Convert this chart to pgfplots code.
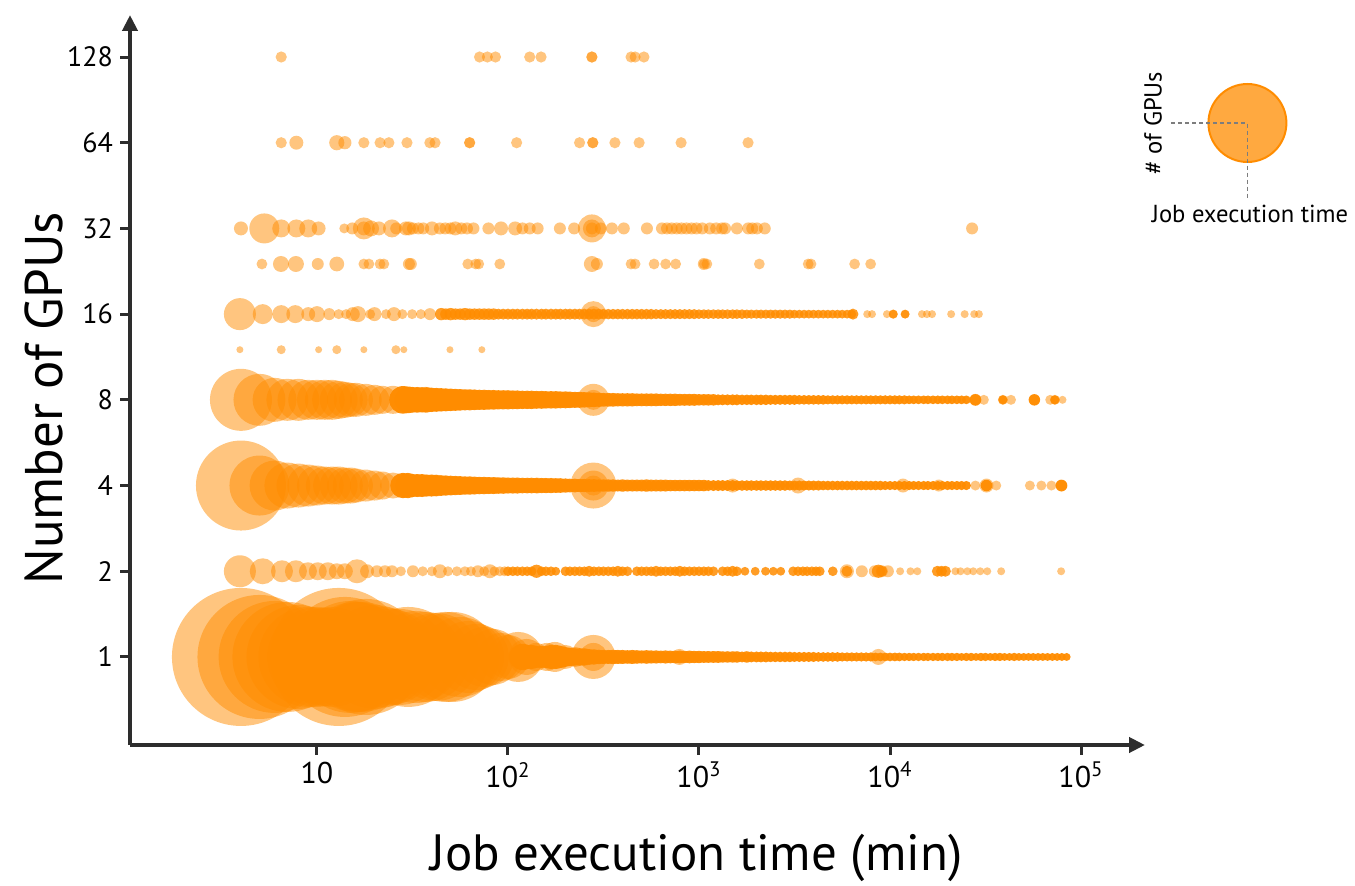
\documentclass[border=0pt]{standalone}
\usepackage{fontspec}
\setmainfont{PT Sans}
\usepackage{pgfplots}
\pgfplotsset{compat=1.18}
\usepackage{pgfplotstable}
\usetikzlibrary{arrows.meta}

\definecolor{dorange}{RGB}{255,140,0}
\definecolor{axgray}{RGB}{45,45,45}
\definecolor{dashgray}{RGB}{125,125,125}

% one bubble per job-duration bin: x = minutes, y = GPUs, r = radius (pt)
% the dense tails stack many jobs, so they are drawn more opaque
\pgfplotsset{bub/.style={scatter, only marks, mark=*,
  scatter/use mapped color={draw opacity=0, fill=dorange, fill opacity=#1},
  visualization depends on={\thisrow{r}\as\rad},
  scatter/@pre marker code/.append style={/tikz/mark size=\rad}},
  bub/.default=0.5,
  tail/.style 2 args={bub=#1,
  scatter/@pre marker code/.append style={/tikz/mark size=#2*\rad}}}

% ---- 1 GPU
\pgfplotstableread[row sep=\\]{
x y r\\
4 1 34.5\\ 5 1 31\\ 6 1 28\\ 7 1 27.5\\ 8 1 26\\ 9 1 25\\ 10 1 25\\ 11 1 24.5\\ 12 1 25\\
13 1 34.5\\ 14 1 30\\ 15 1 28\\ 16 1 27.5\\ 17 1 27.5\\ 18 1 29\\ 20 1 26\\ 22 1 25\\ 24 1 24\\
27 1 24\\ 30 1 25\\ 33 1 23\\ 37 1 22.5\\ 42 1 22\\ 47 1 22.5\\ 51 1 22.5\\ 56 1 20\\ 62 1 18\\
68 1 16.5\\ 75 1 15\\ 83 1 14\\ 92 1 12\\ 100 1 11\\ 113 1 12.5\\ 125 1 9\\ 140 1 7\\ 160 1 7\\
176 1 7.5\\ 200 1 6\\ 225 1 5\\ 250 1 4.5\\ 280 1 11\\ 280 1 7\\ 790 1 4\\ 8700 1 4\\
}\gpuone
\pgfplotstableread[row sep=\\]{
x y r\\
1.19e2 1 6\\ 1.26e2 1 5.5\\ 1.33e2 1 5.5\\ 1.41e2 1 5\\ 1.50e2 1 5\\ 1.58e2 1 5\\ 1.68e2 1 5.5\\
1.78e2 1 5.5\\ 1.88e2 1 5\\ 2.00e2 1 4.5\\ 2.11e2 1 4.2\\ 2.24e2 1 4\\ 2.37e2 1 4\\ 2.51e2 1 3.8\\
2.66e2 1 3.6\\ 2.82e2 1 3.5\\
2.99e2 1 3.3\\ 3.16e2 1 3.2\\ 3.35e2 1 3.2\\ 3.55e2 1 3.3\\ 3.76e2 1 3.2\\ 3.98e2 1 3.2\\ 4.22e2 1 3.1\\
4.47e2 1 3.2\\ 4.73e2 1 3.1\\ 5.01e2 1 3\\ 5.31e2 1 3.1\\ 5.62e2 1 3\\ 5.96e2 1 3\\ 6.31e2 1 2.9\\
6.68e2 1 3\\ 7.08e2 1 2.9\\ 7.50e2 1 2.9\\ 7.94e2 1 2.9\\ 8.41e2 1 2.8\\ 8.91e2 1 2.9\\ 9.44e2 1 2.8\\
1.00e3 1 2.8\\ 1.06e3 1 2.7\\ 1.12e3 1 2.7\\ 1.19e3 1 2.7\\ 1.26e3 1 2.7\\ 1.33e3 1 2.6\\ 1.41e3 1 2.6\\
1.50e3 1 2.6\\ 1.58e3 1 2.6\\ 1.68e3 1 2.5\\ 1.78e3 1 2.6\\ 1.88e3 1 2.5\\ 2.00e3 1 2.5\\ 2.11e3 1 2.5\\
2.24e3 1 2.5\\ 2.37e3 1 2.4\\ 2.51e3 1 2.4\\ 2.66e3 1 2.4\\ 2.82e3 1 2.4\\ 2.99e3 1 2.4\\ 3.16e3 1 2.3\\
3.35e3 1 2.3\\ 3.55e3 1 2.3\\ 3.76e3 1 2.3\\ 3.98e3 1 2.3\\ 4.22e3 1 2.2\\ 4.47e3 1 2.2\\ 4.73e3 1 2.2\\
5.01e3 1 2.2\\ 5.31e3 1 2.2\\ 5.62e3 1 2.1\\ 5.96e3 1 2.1\\ 6.31e3 1 2.1\\ 6.68e3 1 2.1\\ 7.08e3 1 2.1\\
7.50e3 1 2.1\\ 7.94e3 1 2.1\\ 8.41e3 1 2\\ 8.91e3 1 2\\ 9.44e3 1 2\\
1.00e4 1 2\\ 1.06e4 1 2\\ 1.12e4 1 2\\ 1.19e4 1 1.9\\ 1.26e4 1 1.9\\ 1.33e4 1 1.9\\ 1.41e4 1 1.9\\
1.50e4 1 1.9\\ 1.58e4 1 1.9\\ 1.68e4 1 1.9\\ 1.78e4 1 1.9\\ 1.88e4 1 1.9\\ 2.00e4 1 1.9\\ 2.11e4 1 1.9\\
2.24e4 1 1.9\\ 2.37e4 1 1.8\\ 2.51e4 1 1.9\\ 2.66e4 1 1.9\\ 2.82e4 1 1.8\\ 2.99e4 1 1.9\\ 3.16e4 1 1.9\\
3.35e4 1 1.8\\ 3.55e4 1 1.9\\ 3.76e4 1 1.9\\ 3.98e4 1 1.8\\ 4.22e4 1 1.8\\ 4.47e4 1 1.9\\ 4.73e4 1 1.8\\
5.01e4 1 1.8\\ 5.31e4 1 1.8\\ 5.62e4 1 1.8\\ 5.96e4 1 1.8\\ 6.31e4 1 1.8\\ 6.68e4 1 1.8\\ 7.08e4 1 1.8\\
7.50e4 1 1.8\\ 7.94e4 1 1.8\\ 8.41e4 1 1.8\\
}\gpuonetail

% ---- 2 GPUs
\pgfplotstableread[row sep=\\]{
x y r\\
3.95 2 8\\ 5.2 2 6.5\\ 6.56 2 5.5\\ 7.76 2 5.5\\ 8.97 2 4.5\\ 10.1 2 4.5\\ 11.4 2 4.5\\ 12.7 2 4\\
14 2 4\\ 16.2 2 6\\ 18.3 2 3.5\\ 20.6 2 3\\ 22.7 2 3\\ 24.7 2 3\\ 27.5 2 2.5\\ 31.8 2 3\\ 35.8 2 2.5\\
40 2 2.5\\ 44 2 3.5\\ 48.5 2 2.5\\ 54 2 2.5\\ 59.5 2 2.5\\ 64 2 2.5\\ 69.6 2 3\\ 75 2 2.5\\ 80.4 2 3.5\\
85 2 2.5\\ 90.7 2 2.5\\ 96 2 2.5\\
5.95e3 2 3.5\\ 7.12e3 2 3\\ 8.33e3 2 3\\ 9.06e3 2 3\\ 9.75e3 2 3\\ 1.13e4 2 2\\ 1.28e4 2 2\\ 1.39e4 2 2\\
2.20e4 2 2\\ 2.34e4 2 2\\ 2.54e4 2 2\\ 2.73e4 2 2\\ 2.97e4 2 2\\ 3.23e4 2 2\\ 3.82e4 2 2\\ 7.87e4 2 2\\
}\gputwo
\pgfplotstableread[row sep=\\]{
x y r\\
1.00e2 2 2.2\\ 1.06e2 2 2.2\\ 1.12e2 2 2.2\\ 1.19e2 2 2.2\\ 1.26e2 2 2.2\\ 1.33e2 2 2.2\\ 1.41e2 2 3\\
1.50e2 2 2.2\\ 1.58e2 2 2.2\\ 1.68e2 2 2.2\\ 1.78e2 2 2\\ 2.00e2 2 2.2\\ 2.11e2 2 2.2\\ 2.24e2 2 2.2\\
2.37e2 2 2.2\\ 2.51e2 2 2.2\\ 2.66e2 2 2.5\\ 2.82e2 2 2.2\\ 2.99e2 2 2.2\\ 3.16e2 2 2.2\\ 3.35e2 2 2.2\\
3.55e2 2 2.2\\ 3.76e2 2 2.5\\ 3.98e2 2 2.2\\ 4.22e2 2 2.2\\ 4.73e2 2 2.2\\ 5.01e2 2 2.2\\ 5.31e2 2 2.2\\
5.62e2 2 2.2\\ 5.96e2 2 2.5\\ 6.31e2 2 2.2\\ 6.68e2 2 2.2\\ 7.08e2 2 2.2\\ 7.50e2 2 2.2\\ 7.94e2 2 2.5\\
8.41e2 2 2.2\\ 8.91e2 2 2.2\\ 9.44e2 2 2.2\\ 1.00e3 2 2.2\\ 1.06e3 2 2.2\\ 1.12e3 2 2.2\\ 1.19e3 2 2.2\\
1.33e3 2 2.2\\ 1.41e3 2 2.2\\ 1.50e3 2 2.5\\ 1.58e3 2 2.2\\ 1.74e3 2 2\\ 1.97e3 2 2\\ 2.23e3 2 2\\
2.45e3 2 2\\ 2.68e3 2 2\\ 3.11e3 2 2.2\\ 3.30e3 2 2.2\\ 3.50e3 2 2.2\\ 3.68e3 2 2.2\\ 3.90e3 2 2.2\\
4.10e3 2 2.2\\ 4.29e3 2 2.2\\ 5.02e3 2 2.2\\ 5.95e3 2 2.5\\ 8.70e3 2 3\\ 9.06e3 2 2.5\\
1.77e4 2 2.5\\ 1.86e4 2 2.5\\ 1.95e4 2 2.5\\
}\gputwotail

% ---- 4 GPUs
\pgfplotstableread[row sep=\\]{
x y r\\
4 4 22.5\\ 5 4 15\\ 6 4 12.5\\ 7 4 11.5\\ 8 4 11\\ 9 4 10.5\\ 10 4 10\\ 11 4 9.5\\ 12 4 9.5\\ 13 4 9.5\\
14 4 9\\ 15 4 9\\ 16 4 8.5\\ 18 4 8\\ 20 4 7.5\\ 22 4 7\\ 25 4 6.5\\ 28 4 6\\ 32 4 5.5\\ 36 4 5\\ 40 4 5\\
42 4 5.5\\ 45 4 4.5\\ 50 4 4.5\\ 56 4 4.5\\ 63 4 4\\ 71 4 4\\ 80 4 4\\ 87 4 4\\ 90 4 3.5\\ 100 4 3.5\\
113 4 3.5\\ 126 4 3.5\\ 142 4 4\\ 160 4 3.5\\ 180 4 3.5\\ 280 4 11.5\\ 280 4 7.5\\ 280 4 5\\
1.5e3 4 3.5\\ 3.3e3 4 4\\ 1.17e4 4 3.5\\ 1.8e4 4 3\\
2.8e4 4 2.5\\ 3.2e4 4 3.5\\ 3.6e4 4 2.5\\ 5.4e4 4 2.5\\ 6.2e4 4 2.5\\ 7.0e4 4 2.5\\ 7.9e4 4 3\\
}\gpufour
\pgfplotstableread[row sep=\\]{
x y r\\
2.82e1 4 5.5\\ 2.99e1 4 5.5\\ 3.16e1 4 5\\
3.35e1 4 5\\ 3.55e1 4 5\\ 3.76e1 4 4.8\\ 3.98e1 4 4.8\\ 4.22e1 4 4.6\\ 4.47e1 4 4.5\\ 4.73e1 4 4.4\\
5.01e1 4 4.3\\ 5.31e1 4 4.2\\ 5.62e1 4 4.1\\ 5.96e1 4 4\\ 6.31e1 4 4\\ 6.68e1 4 3.9\\ 7.08e1 4 3.8\\
7.50e1 4 3.8\\ 7.94e1 4 3.7\\ 8.41e1 4 3.7\\ 8.91e1 4 3.6\\ 9.44e1 4 3.6\\ 1.00e2 4 3.5\\ 1.06e2 4 3.5\\
1.12e2 4 3.5\\ 1.19e2 4 3.4\\ 1.26e2 4 3.4\\ 1.33e2 4 3.4\\ 1.41e2 4 3.3\\ 1.50e2 4 3.3\\ 1.58e2 4 3.3\\
1.68e2 4 3.3\\ 1.78e2 4 3.2\\ 1.88e2 4 3.2\\
2.00e2 4 3.1\\ 2.11e2 4 3\\ 2.24e2 4 3\\ 2.37e2 4 2.9\\ 2.51e2 4 2.9\\ 2.66e2 4 2.8\\ 2.82e2 4 2.8\\
2.99e2 4 2.7\\ 3.16e2 4 2.7\\ 3.35e2 4 2.7\\ 3.55e2 4 2.7\\ 3.76e2 4 2.6\\ 3.98e2 4 2.7\\ 4.22e2 4 2.6\\
4.47e2 4 2.6\\ 4.73e2 4 2.6\\ 5.01e2 4 2.6\\ 5.31e2 4 2.7\\ 5.62e2 4 2.6\\ 5.96e2 4 2.6\\ 6.31e2 4 2.6\\
6.68e2 4 2.6\\ 7.08e2 4 2.5\\ 7.50e2 4 2.5\\ 7.94e2 4 2.5\\ 8.41e2 4 2.5\\ 8.91e2 4 2.5\\ 9.44e2 4 2.5\\
1.00e3 4 2.5\\ 1.06e3 4 2.5\\ 1.12e3 4 2.4\\ 1.19e3 4 2.4\\ 1.26e3 4 2.4\\ 1.33e3 4 2.4\\ 1.41e3 4 2.4\\
1.50e3 4 2.4\\ 1.58e3 4 2.3\\ 1.68e3 4 2.3\\ 1.78e3 4 2.3\\ 1.88e3 4 2.3\\ 2.00e3 4 2.3\\ 2.11e3 4 2.3\\
2.24e3 4 2.3\\ 2.37e3 4 2.3\\ 2.51e3 4 2.3\\ 2.66e3 4 2.3\\ 2.82e3 4 2.3\\ 2.99e3 4 2.2\\ 3.16e3 4 2.2\\
3.35e3 4 2.2\\ 3.55e3 4 2.2\\ 3.76e3 4 2.2\\ 3.98e3 4 2.2\\ 4.22e3 4 2.2\\ 4.47e3 4 2.1\\ 4.73e3 4 2.1\\
5.01e3 4 2.1\\ 5.31e3 4 2.1\\ 5.62e3 4 2.1\\ 5.96e3 4 2.1\\ 6.31e3 4 2.1\\ 6.68e3 4 2.1\\ 7.08e3 4 2.1\\
7.50e3 4 2.1\\ 7.94e3 4 2.1\\ 8.41e3 4 2.1\\ 8.91e3 4 2.1\\ 9.44e3 4 2\\ 1.00e4 4 2\\ 1.06e4 4 2\\
1.12e4 4 2\\ 1.19e4 4 2\\ 1.26e4 4 2\\ 1.33e4 4 2\\ 1.41e4 4 2\\ 1.50e4 4 2\\ 1.58e4 4 2\\ 1.68e4 4 2\\
1.78e4 4 2\\ 1.88e4 4 2\\ 2.00e4 4 2\\ 2.11e4 4 2\\ 2.24e4 4 2\\ 2.37e4 4 2\\ 2.51e4 4 2\\
3.2e4 4 2.5\\ 7.9e4 4 2.5\\
}\gpufourtail

% ---- 8 GPUs
\pgfplotstableread[row sep=\\]{
x y r\\
4 8 15.5\\ 5 8 13\\ 6 8 11\\ 7 8 10.5\\ 8 8 10.5\\ 9 8 10\\ 10 8 10\\ 11 8 10\\ 12 8 10\\ 13 8 9.5\\
14 8 9\\ 15 8 8.5\\ 16 8 8.5\\ 18 8 8\\ 20 8 7.5\\ 22 8 7\\ 25 8 7\\ 28 8 6.5\\ 32 8 6\\ 37 8 6.5\\
42 8 5.5\\ 47 8 5.5\\ 53 8 5\\ 60 8 5\\ 67 8 5\\ 75 8 4.5\\ 84 8 4.5\\ 95 8 4\\ 106 8 4\\ 120 8 4\\
134 8 3.5\\ 150 8 3.5\\ 170 8 3.5\\ 190 8 3.5\\ 210 8 3.5\\ 280 8 8\\ 280 8 5\\ 280 8 3.5\\
2.8e4 8 3\\ 3.1e4 8 2.5\\ 3.9e4 8 2.5\\ 4.3e4 8 2.5\\ 5.7e4 8 2.7\\ 6.9e4 8 2.5\\ 7.3e4 8 2.5\\ 8.0e4 8 2\\
}\gpueight
\pgfplotstableread[row sep=\\]{
x y r\\
2.82e1 8 6\\ 2.99e1 8 5.8\\ 3.16e1 8 5.6\\
3.35e1 8 5.6\\ 3.55e1 8 5.5\\ 3.76e1 8 5.5\\ 3.98e1 8 5.3\\ 4.22e1 8 5.2\\ 4.47e1 8 5.1\\ 4.73e1 8 5\\
5.01e1 8 4.9\\ 5.31e1 8 4.8\\ 5.62e1 8 4.7\\ 5.96e1 8 4.6\\ 6.31e1 8 4.6\\ 6.68e1 8 4.5\\ 7.08e1 8 4.4\\
7.50e1 8 4.4\\ 7.94e1 8 4.3\\ 8.41e1 8 4.3\\ 8.91e1 8 4.2\\ 9.44e1 8 4.2\\ 1.00e2 8 4.2\\ 1.06e2 8 4.1\\
1.12e2 8 4.1\\ 1.19e2 8 4\\ 1.26e2 8 4\\ 1.33e2 8 4\\ 1.41e2 8 3.9\\ 1.50e2 8 3.9\\ 1.58e2 8 3.8\\
1.68e2 8 3.8\\ 1.78e2 8 3.8\\ 1.88e2 8 3.7\\ 2.00e2 8 3.7\\ 2.11e2 8 3.6\\
2.24e2 8 3.5\\ 2.37e2 8 3.5\\ 2.51e2 8 3.4\\ 2.66e2 8 3.3\\ 2.82e2 8 3.2\\ 2.99e2 8 3.1\\ 3.16e2 8 3\\
3.35e2 8 3\\ 3.55e2 8 3\\ 3.76e2 8 2.9\\ 3.98e2 8 2.9\\ 4.22e2 8 2.9\\ 4.47e2 8 2.9\\ 4.73e2 8 2.8\\
5.01e2 8 2.8\\ 5.31e2 8 2.8\\ 5.62e2 8 2.8\\ 5.96e2 8 2.8\\ 6.31e2 8 2.7\\ 6.68e2 8 2.7\\ 7.08e2 8 2.7\\
7.50e2 8 2.7\\ 7.94e2 8 2.6\\ 8.41e2 8 2.6\\ 8.91e2 8 2.6\\ 9.44e2 8 2.6\\
1.00e3 8 2.5\\ 1.06e3 8 2.5\\ 1.12e3 8 2.5\\ 1.19e3 8 2.5\\ 1.26e3 8 2.4\\ 1.33e3 8 2.4\\ 1.41e3 8 2.4\\
1.50e3 8 2.4\\ 1.58e3 8 2.4\\ 1.68e3 8 2.3\\ 1.78e3 8 2.3\\ 1.88e3 8 2.3\\ 2.00e3 8 2.3\\ 2.11e3 8 2.3\\
2.24e3 8 2.3\\ 2.37e3 8 2.2\\ 2.51e3 8 2.2\\ 2.66e3 8 2.2\\ 2.82e3 8 2.2\\ 2.99e3 8 2.2\\ 3.16e3 8 2.2\\
3.35e3 8 2.1\\ 3.55e3 8 2.1\\ 3.76e3 8 2.1\\ 3.98e3 8 2.1\\ 4.22e3 8 2.1\\ 4.47e3 8 2.1\\ 4.73e3 8 2\\
5.01e3 8 2\\ 5.31e3 8 2\\ 5.62e3 8 2\\ 5.96e3 8 2\\ 6.31e3 8 2\\ 6.68e3 8 2\\ 7.08e3 8 2\\ 7.50e3 8 2\\
7.94e3 8 2\\ 8.41e3 8 2\\ 8.91e3 8 2\\ 9.44e3 8 2\\ 1.00e4 8 2\\ 1.06e4 8 2\\ 1.12e4 8 2\\ 1.19e4 8 2\\
1.26e4 8 1.9\\ 1.33e4 8 1.9\\ 1.41e4 8 1.9\\ 1.50e4 8 1.9\\ 1.58e4 8 1.9\\ 1.68e4 8 1.9\\ 1.78e4 8 1.9\\
1.88e4 8 1.9\\ 2.00e4 8 1.9\\ 2.11e4 8 1.9\\ 2.24e4 8 1.9\\ 2.37e4 8 1.9\\ 2.51e4 8 1.9\\
2.8e4 8 2.5\\ 3.9e4 8 2\\ 5.7e4 8 2.5\\ 7.3e4 8 2\\
}\gpueighttail

% ---- 12 GPUs
\pgfplotstableread[row sep=\\]{
x y r\\
3.95 12 1.75\\ 6.5 12 2.25\\ 10.2 12 1.75\\ 12.7 12 2.25\\ 17.6 12 1.75\\ 25.9 12 2.25\\ 28.5 12 1.75\\
49.7 12 1.75\\ 73 12 1.75\\
}\gputwelve

% ---- 16 GPUs
\pgfplotstableread[row sep=\\]{
x y r\\
3.95 16 8\\ 5.2 16 5\\ 6.5 16 4.5\\ 7.7 16 4.5\\ 9 16 3.5\\ 10 16 4\\ 11.6 16 3\\ 13 16 2.5\\ 14.2 16 2.5\\
15.4 16 3.5\\ 16.4 16 4\\ 19 16 2.5\\ 20 16 3.5\\ 23 16 2.5\\ 25.3 16 3.5\\ 28 16 2.5\\ 31.5 16 2.5\\
35 16 2.5\\ 39 16 3\\ 280 16 6.5\\ 280 16 4\\
7.6e3 16 2\\ 8.05e3 16 2\\ 9.64e3 16 2\\ 1.04e4 16 2.3\\ 1.2e4 16 2.2\\ 1.47e4 16 2\\ 1.56e4 16 2\\
1.66e4 16 2\\ 2.09e4 16 2\\ 2.46e4 16 2\\ 2.76e4 16 2\\ 2.92e4 16 2\\
}\gpusixteen
\pgfplotstableread[row sep=\\]{
x y r\\
4.47e1 16 2.8\\ 4.73e1 16 2.6\\ 5.01e1 16 2.8\\ 5.31e1 16 2.6\\ 5.62e1 16 2.6\\ 5.96e1 16 2.8\\
6.31e1 16 2.6\\ 6.68e1 16 2.6\\ 7.08e1 16 2.6\\ 7.50e1 16 2.6\\ 7.94e1 16 2.6\\ 8.41e1 16 2.6\\
8.91e1 16 2.5\\ 9.44e1 16 2.5\\ 1.00e2 16 2.5\\ 1.06e2 16 2.5\\ 1.12e2 16 2.5\\ 1.19e2 16 2.5\\
1.26e2 16 2.5\\ 1.33e2 16 2.5\\ 1.41e2 16 2.5\\ 1.50e2 16 2.5\\ 1.58e2 16 2.5\\ 1.68e2 16 2.5\\
1.78e2 16 2.5\\ 1.88e2 16 2.5\\ 2.00e2 16 2.5\\ 2.11e2 16 2.5\\ 2.24e2 16 2.5\\ 2.37e2 16 2.5\\
2.51e2 16 2.5\\ 2.66e2 16 2.5\\ 2.82e2 16 2.5\\ 2.99e2 16 2.5\\ 3.16e2 16 2.4\\ 3.35e2 16 2.4\\
3.55e2 16 2.4\\ 3.76e2 16 2.4\\ 3.98e2 16 2.4\\ 4.22e2 16 2.4\\ 4.47e2 16 2.4\\ 4.73e2 16 2.4\\
5.01e2 16 2.4\\ 5.31e2 16 2.4\\ 5.62e2 16 2.4\\ 5.96e2 16 2.3\\ 6.31e2 16 2.3\\ 6.68e2 16 2.3\\
7.08e2 16 2.3\\ 7.50e2 16 2.3\\ 7.94e2 16 2.3\\ 8.41e2 16 2.3\\ 8.91e2 16 2.3\\ 9.44e2 16 2.3\\
1.00e3 16 2.2\\ 1.06e3 16 2.2\\ 1.12e3 16 2.2\\ 1.19e3 16 2.2\\ 1.26e3 16 2.2\\ 1.33e3 16 2.2\\
1.41e3 16 2.2\\ 1.50e3 16 2.2\\ 1.58e3 16 2.2\\ 1.68e3 16 2.2\\ 1.78e3 16 2.1\\ 1.88e3 16 2.1\\
2.00e3 16 2.1\\ 2.11e3 16 2.1\\ 2.24e3 16 2.1\\ 2.37e3 16 2.1\\ 2.51e3 16 2.1\\ 2.66e3 16 2.1\\
2.82e3 16 2.1\\ 2.99e3 16 2.1\\ 3.16e3 16 2\\ 3.35e3 16 2\\ 3.55e3 16 2\\ 3.76e3 16 2\\ 3.98e3 16 2\\
4.22e3 16 2\\ 4.47e3 16 2\\ 4.73e3 16 2\\ 5.01e3 16 2\\ 5.31e3 16 2\\ 5.62e3 16 2\\ 5.96e3 16 2\\ 6.31e3 16 2\\
6.4e3 16 2.5\\ 1.04e4 16 2\\ 1.2e4 16 2\\
}\gpusixteentail

% ---- 24 GPUs
\pgfplotstableread[row sep=\\]{
x y r\\
5.15 24 2.7\\ 6.48 24 4\\ 7.76 24 4\\ 10.1 24 3\\ 12.7 24 3.7\\ 17.6 24 2.7\\ 18.7 24 2.7\\ 21.4 24 2.7\\
22.4 24 2.7\\ 30.3 24 3\\ 31 24 3\\ 61.6 24 2.7\\ 67.8 24 2.7\\ 70.3 24 2.7\\ 90.6 24 2.7\\ 275 24 4\\
292 24 3\\ 441 24 2.7\\ 463 24 2.7\\ 582 24 2.7\\ 669 24 2.7\\ 755 24 2.7\\ 1060 24 3\\ 1060 24 2.5\\
1100 24 2.7\\ 2070 24 2.7\\ 3730 24 2.7\\ 3860 24 2.7\\ 6530 24 2.7\\ 7920 24 2.7\\
}\gputwentyfour

% ---- 32 GPUs
\pgfplotstableread[row sep=\\]{
x y r\\
4 32 3.5\\ 5.3 32 7.5\\ 6.5 32 4.5\\ 7.8 32 4.5\\ 9 32 4.5\\ 10.2 32 3.5\\ 13.9 32 2.5\\ 15.3 32 3\\
17.6 32 5.5\\ 17.6 32 3.5\\ 19.2 32 4\\ 21.1 32 3.5\\ 24.7 32 4.5\\ 26 32 3\\ 29.2 32 3.5\\ 30.3 32 3.5\\
31.8 32 3\\ 34 32 3\\ 36 32 3\\ 40 32 3.5\\ 44 32 3\\ 47 32 3\\ 50 32 3\\ 53 32 3.5\\ 57 32 3\\ 61 32 3\\
66 32 3\\ 79 32 3\\ 92 32 3.5\\ 109 32 3.5\\ 119 32 3\\ 130 32 3\\ 143 32 3\\ 187 32 3\\ 222 32 3\\
275 32 7\\ 275 32 4.5\\ 275 32 3\\ 306 32 3\\ 350 32 3\\ 404 32 3\\ 534 32 3\\ 640 32 3\\ 680 32 3\\
720 32 3\\ 765 32 3\\ 810 32 3\\ 860 32 3\\ 915 32 3\\ 970 32 3\\ 1040 32 3\\ 1140 32 3\\ 1230 32 3\\
1320 32 3\\ 1370 32 3\\ 1580 32 3\\ 1810 32 3\\ 1900 32 3\\ 2010 32 3\\ 2210 32 3\\ 26900 32 3\\
}\gputhirtytwo

% ---- 64 GPUs
\pgfplotstableread[row sep=\\]{
x y r\\
6.5 64 2.8\\ 7.8 64 3.5\\ 12.7 64 3.8\\ 14 64 3.3\\ 17.6 64 2.8\\ 21.4 64 2.8\\ 23.8 64 2.8\\
29.6 64 2.8\\ 39 64 2.8\\ 41.5 64 2.8\\ 63 64 2.8\\ 63 64 2.8\\ 111 64 2.8\\ 237 64 2.8\\ 278 64 2.8\\
278 64 2.8\\ 363 64 2.8\\ 486 64 2.8\\ 806 64 2.8\\ 1807 64 2.8\\
}\gpusixtyfour

% ---- 128 GPUs
\pgfplotstableread[row sep=\\]{
x y r\\
6.5 128 2.8\\ 71 128 2.8\\ 78 128 2.8\\ 86 128 2.8\\ 130 128 2.8\\ 149 128 2.8\\ 275 128 2.8\\
275 128 2.8\\ 441 128 2.8\\ 463 128 2.8\\ 515 128 2.8\\
}\gpuonetwentyeight

\begin{document}
\begin{tikzpicture}
\path[use as bounding box] (0,0) rectangle (677.5pt,442.5pt);
\begin{axis}[
  at={(65pt,70pt)}, anchor=south west,
  scale only axis, width=507.5pt, height=365pt,
  xmode=log, ymode=log, log basis y=2,
  xmin=1.05, xmax=2.163e5, ymin=0.4906, ymax=179.8,
  axis lines=left,
  axis line style={line width=2pt, draw=axgray, -{Triangle[length=8pt,width=7.5pt]}},
  xtick={10,100,1000,10000,100000},
  xticklabels={10,10\textsuperscript{2},10\textsuperscript{3},10\textsuperscript{4},10\textsuperscript{5}},
  ytick={1,2,4,8,16,32,64,128},
  yticklabels={1,2,4,8,16,32,64,128},
  xminorticks=false, yminorticks=false,
  tick align=outside, major tick length=5pt,
  tick style={line width=1.5pt, draw=axgray},
  /pgf/number format/assume math mode=true,
  xticklabel style={font=\fontsize{15}{15}\selectfont},
  yticklabel style={font=\fontsize{14}{14}\selectfont},
  xlabel={Job execution time (min)},
  ylabel={Number of GPUs},
  x label style={at={(rel axis cs:0.558,-0.155)}, anchor=center, font=\fontsize{25.5}{25.5}\selectfont},
  y label style={at={(rel axis cs:-0.085,0.475)}, anchor=center, font=\fontsize{26.5}{26.5}\selectfont},
  clip=false,
]
\addplot[bub] table[x=x,y=y] {\gpuone};
\addplot[tail={0.95}{1.1}] table[x=x,y=y] {\gpuonetail};
\addplot[bub] table[x=x,y=y] {\gputwo};
\addplot[tail={0.85}{1.1}] table[x=x,y=y] {\gputwotail};
\addplot[bub] table[x=x,y=y] {\gpufour};
\addplot[tail={0.95}{1.15}] table[x=x,y=y] {\gpufourtail};
\addplot[bub] table[x=x,y=y] {\gpueight};
\addplot[tail={0.95}{1.15}] table[x=x,y=y] {\gpueighttail};
\addplot[bub] table[x=x,y=y] {\gputwelve};
\addplot[bub] table[x=x,y=y] {\gpusixteen};
\addplot[tail={0.85}{1.1}] table[x=x,y=y] {\gpusixteentail};
\addplot[bub] table[x=x,y=y] {\gputwentyfour};
\addplot[bub] table[x=x,y=y] {\gputhirtytwo};
\addplot[bub] table[x=x,y=y] {\gpusixtyfour};
\addplot[bub] table[x=x,y=y] {\gpuonetwentyeight};
\end{axis}
% size key, top right
\fill[dorange, fill opacity=0.75] (623.7pt,381pt) circle (19.5pt);
\draw[dorange, line width=1pt] (623.7pt,381pt) circle (19.5pt);
\draw[dashgray, line width=0.6pt, dash pattern=on 2pt off 1.5pt]
  (585.5pt,381pt) -- (623.7pt,381pt) -- (623.7pt,343.5pt);
\node[rotate=90, font=\fontsize{12.3}{12.3}\selectfont] at (576.5pt,381pt) {\# of GPUs};
\node[font=\fontsize{12.3}{12.3}\selectfont] at (625pt,335.5pt) {Job execution time};
\end{tikzpicture}
\end{document}
